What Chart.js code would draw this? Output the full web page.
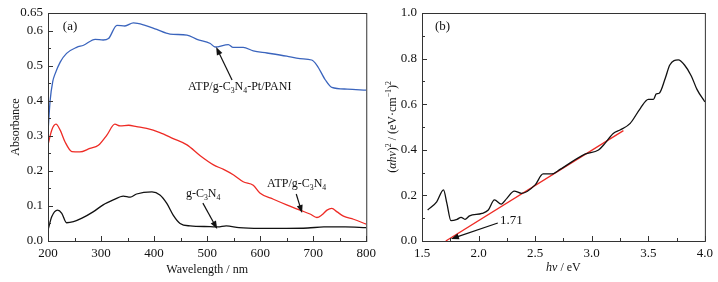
<!DOCTYPE html>
<html>
<head>
<meta charset="utf-8">
<script src="https://cdn.jsdelivr.net/npm/chart.js@4.4.1/dist/chart.umd.min.js"></script>
<style>
  html, body { margin: 0; padding: 0; background: #fff; }
  #wrap { position: relative; width: 718px; height: 282px; }
  #c1 { position: absolute; left: 0; top: 0; }
  #c2 { position: absolute; left: 378px; top: 0; }
</style>
</head>
<body>
<div id="wrap">
  <canvas id="c1" width="381" height="282"></canvas>
  <canvas id="c2" width="340" height="282"></canvas>
</div>
<script>
// (a) UV-vis absorbance
var blueWl  = [200, 204, 209, 213, 223, 235, 254, 267, 289, 304, 314, 330, 345, 361, 383, 405, 430, 462, 481, 506, 515, 540, 549, 568, 587, 613, 650, 675, 697, 707, 723, 735, 764, 800];
var blueAbs = [0.31, 0.40, 0.455, 0.475, 0.51, 0.535, 0.552, 0.558, 0.575, 0.573, 0.577, 0.615, 0.613, 0.622, 0.615, 0.603, 0.59, 0.587, 0.575, 0.563, 0.553, 0.56, 0.552, 0.552, 0.542, 0.536, 0.527, 0.52, 0.516, 0.501, 0.459, 0.438, 0.433, 0.43];

var redWl  = [200, 207, 215, 223, 232, 245, 260, 279, 295, 311, 326, 336, 352, 367, 386, 411, 436, 462, 487, 512, 531, 550, 568, 587, 600, 625, 650, 675, 694, 707, 716, 726, 735, 745, 757, 776, 800];
var redAbs = [0.274, 0.316, 0.333, 0.316, 0.283, 0.255, 0.254, 0.264, 0.273, 0.302, 0.333, 0.328, 0.33, 0.326, 0.321, 0.309, 0.292, 0.274, 0.243, 0.217, 0.204, 0.188, 0.169, 0.159, 0.136, 0.119, 0.103, 0.088, 0.077, 0.067, 0.074, 0.088, 0.093, 0.083, 0.071, 0.062, 0.048];

var blackWl  = [200, 207, 218, 226, 235, 248, 264, 285, 304, 323, 342, 355, 367, 396, 411, 424, 436, 449, 468, 506, 520, 536, 560, 600, 650, 690, 720, 760, 800];
var blackAbs = [0.031, 0.069, 0.088, 0.079, 0.052, 0.055, 0.065, 0.083, 0.103, 0.117, 0.128, 0.125, 0.134, 0.14, 0.131, 0.107, 0.074, 0.05, 0.043, 0.041, 0.04, 0.043, 0.038, 0.036, 0.036, 0.037, 0.04, 0.04, 0.038];

var absTicks = [0, 0.1, 0.2, 0.3, 0.4, 0.5, 0.6, 0.65];

// (b) Tauc plot
var taucEnergy = [1.55, 1.63, 1.69, 1.72, 1.756, 1.81, 1.845, 1.88, 1.92, 2.03, 2.086, 2.14, 2.2, 2.25, 2.315, 2.38, 2.5, 2.57, 2.646, 2.72, 2.94, 3.06, 3.117, 3.19, 3.25, 3.34, 3.43, 3.5, 3.545, 3.57, 3.596, 3.65, 3.69, 3.765, 3.82, 3.88, 3.93, 4.0];
var taucValue  = [0.136, 0.172, 0.224, 0.165, 0.089, 0.095, 0.104, 0.095, 0.11, 0.121, 0.136, 0.18, 0.162, 0.187, 0.219, 0.209, 0.246, 0.294, 0.294, 0.314, 0.381, 0.399, 0.428, 0.472, 0.487, 0.516, 0.582, 0.621, 0.621, 0.645, 0.648, 0.714, 0.772, 0.794, 0.772, 0.724, 0.665, 0.61];

var fitEnergy = [1.71, 3.28];
var fitValue  = [0, 0.484];

var SERIF = "'Liberation Serif', 'DejaVu Serif', serif";
Chart.defaults.font.family = SERIF;
Chart.defaults.color = '#111';

function pts(xs, ys) {
  return xs.map(function (x, i) { return { x: x, y: ys[i] }; });
}

// draw text made of pieces: [text, style] where style is '', 'sub', 'sup', 'i'
function richWidth(ctx, parts, size) {
  var w = 0;
  parts.forEach(function (p) {
    var s = (p[1] === 'sub' || p[1] === 'sup') ? size * 0.65 : size;
    ctx.font = (p[1] === 'i' ? 'italic ' : '') + s + 'px ' + SERIF;
    w += ctx.measureText(p[0]).width;
  });
  return w;
}
function drawRich(ctx, x, y, parts, size, align) {
  ctx.save();
  ctx.textBaseline = 'middle';
  ctx.textAlign = 'left';
  ctx.fillStyle = '#111';
  if (align === 'center') x -= richWidth(ctx, parts, size) / 2;
  parts.forEach(function (p) {
    var s = size, dy = 0;
    if (p[1] === 'sub') { s = size * 0.65; dy = size * 0.3; }
    if (p[1] === 'sup') { s = size * 0.65; dy = -size * 0.3; }
    ctx.font = (p[1] === 'i' ? 'italic ' : '') + s + 'px ' + SERIF;
    ctx.fillText(p[0], x, y + dy);
    x += ctx.measureText(p[0]).width;
  });
  ctx.restore();
}
function arrow(ctx, x1, y1, x2, y2) {
  var a = Math.atan2(y2 - y1, x2 - x1), L = 8, W = 3;
  ctx.save();
  ctx.strokeStyle = '#111';
  ctx.fillStyle = '#111';
  ctx.lineWidth = 1.2;
  ctx.beginPath();
  ctx.moveTo(x1, y1);
  ctx.lineTo(x2 - Math.cos(a) * L * 0.8, y2 - Math.sin(a) * L * 0.8);
  ctx.stroke();
  ctx.beginPath();
  ctx.moveTo(x2, y2);
  ctx.lineTo(x2 - Math.cos(a) * L - Math.sin(a) * W, y2 - Math.sin(a) * L + Math.cos(a) * W);
  ctx.lineTo(x2 - Math.cos(a) * L + Math.sin(a) * W, y2 - Math.sin(a) * L - Math.cos(a) * W);
  ctx.closePath();
  ctx.fill();
  ctx.restore();
}

// box around the plot plus inward major/minor ticks
var framePlugin = {
  id: 'frame',
  afterDraw: function (chart, args, opts) {
    var ctx = chart.ctx, a = chart.chartArea;
    var xs = chart.scales.x, ys = chart.scales.y;
    ctx.save();
    ctx.strokeStyle = '#333';
    ctx.lineWidth = 1;
    ctx.strokeRect(a.left + 0.5, a.top + 0.5, a.right - a.left, a.bottom - a.top);
    ctx.beginPath();
    var v, p, len;
    for (v = xs.min; v <= xs.max + 1e-9; v += opts.xMinor) {
      p = Math.round(xs.getPixelForValue(v)) + 0.5;
      len = (Math.abs(Math.round((v - xs.min) / opts.xMinor)) % 2 === 0) ? 5 : 3;
      ctx.moveTo(p, a.bottom);
      ctx.lineTo(p, a.bottom - len);
    }
    for (v = ys.min; v <= ys.max + 1e-9; v += opts.yMinor) {
      p = Math.round(ys.getPixelForValue(v)) + 0.5;
      len = (Math.abs(Math.round((v - ys.min) / opts.yMinor)) % 2 === 0) ? 5 : 3;
      ctx.moveTo(a.left, p);
      ctx.lineTo(a.left + len, p);
    }
    ctx.stroke();
    ctx.restore();
    if (opts.notes) opts.notes(chart, ctx, xs, ys);
  }
};

var tickFont = { size: 13, family: SERIF };
var noGrid = { display: false, drawTicks: false };

new Chart(document.getElementById('c1'), {
  type: 'line',
  data: {
    datasets: [
      { data: pts(blueWl, blueAbs), borderColor: '#3a64bd' },
      { data: pts(redWl, redAbs), borderColor: '#ee2b25' },
      { data: pts(blackWl, blackAbs), borderColor: '#111111' }
    ]
  },
  options: {
    responsive: false,
    animation: false,
    layout: { padding: { left: 5, top: 13, right: 12, bottom: 0 } },
    elements: {
      point: { radius: 0 },
      line: { borderWidth: 1.3, cubicInterpolationMode: 'monotone', fill: false }
    },
    plugins: {
      legend: { display: false },
      tooltip: { enabled: false },
      frame: {
        xMinor: 50, yMinor: 0.05,
        notes: function (chart, ctx, xs, ys) {
          var X = function (v) { return xs.getPixelForValue(v); };
          var Y = function (v) { return ys.getPixelForValue(v); };
          drawRich(ctx, X(228), Y(0.61), [['(a)', '']], 13);
          drawRich(ctx, X(464), Y(0.439), [['ATP/g-C', ''], ['3', 'sub'], ['N', ''], ['4', 'sub'], ['-Pt/PANI', '']], 12);
          arrow(ctx, X(547), Y(0.459), X(517), Y(0.553));
          drawRich(ctx, X(613), Y(0.162), [['ATP/g-C', ''], ['3', 'sub'], ['N', ''], ['4', 'sub']], 12);
          arrow(ctx, X(668), Y(0.134), X(679), Y(0.08));
          drawRich(ctx, X(460), Y(0.134), [['g-C', ''], ['3', 'sub'], ['N', ''], ['4', 'sub']], 12);
          arrow(ctx, X(492), Y(0.108), X(519), Y(0.034));
        }
      }
    },
    scales: {
      x: {
        type: 'linear', min: 200, max: 800,
        grid: noGrid, border: { display: false },
        ticks: { stepSize: 100, font: tickFont, padding: 5, maxRotation: 0 },
        title: { display: true, text: 'Wavelength / nm', font: { size: 12, family: SERIF }, padding: { top: 2, bottom: 5 } },
        afterFit: function (s) { s.height = 41; }
      },
      y: {
        type: 'linear', min: 0, max: 0.65,
        grid: noGrid, border: { display: false },
        afterBuildTicks: function (s) { s.ticks = absTicks.map(function (v) { return { value: v }; }); },
        ticks: {
          font: tickFont, padding: 5,
          callback: function (v) { return v === 0.65 ? '0.65' : v.toFixed(1); }
        },
        title: { display: true, text: 'Absorbance', font: { size: 12, family: SERIF }, padding: { top: 4, bottom: 0 } },
        afterFit: function (s) { s.width = 43; }
      }
    }
  },
  plugins: [framePlugin]
});

new Chart(document.getElementById('c2'), {
  type: 'line',
  data: {
    datasets: [
      { data: pts(taucEnergy, taucValue), borderColor: '#111111' },
      { data: pts(fitEnergy, fitValue), borderColor: '#ee2b25', cubicInterpolationMode: 'default', tension: 0 }
    ]
  },
  options: {
    responsive: false,
    animation: false,
    layout: { padding: { left: 0, top: 13, right: 13, bottom: 0 } },
    elements: {
      point: { radius: 0 },
      line: { borderWidth: 1.3, cubicInterpolationMode: 'monotone', fill: false }
    },
    plugins: {
      legend: { display: false },
      tooltip: { enabled: false },
      frame: {
        xMinor: 0.25, yMinor: 0.1,
        notes: function (chart, ctx, xs, ys) {
          var X = function (v) { return xs.getPixelForValue(v); };
          var Y = function (v) { return ys.getPixelForValue(v); };
          var a = chart.chartArea;
          drawRich(ctx, X(1.615), Y(0.94), [['(b)', '']], 13);
          drawRich(ctx, X(2.19), Y(0.088), [['1.71', '']], 13);
          arrow(ctx, X(2.17), Y(0.079), X(1.756), Y(0.009));
          // axis titles with italic symbols
          drawRich(ctx, (a.left + a.right) / 2, 268, [['h\u03bd', 'i'], [' / eV', '']], 12, 'center');
          ctx.save();
          ctx.translate(15, (a.top + a.bottom) / 2);
          ctx.rotate(-Math.PI / 2);
          drawRich(ctx, 0, 0, [['(', ''], ['\u03b1h\u03bd', 'i'], [')', ''], ['2', 'sup'], [' / (eV\u00b7cm', ''], ['\u22121', 'sup'], [')', ''], ['2', 'sup']], 12, 'center');
          ctx.restore();
        }
      }
    },
    scales: {
      x: {
        type: 'linear', min: 1.5, max: 4.0,
        grid: noGrid, border: { display: false },
        ticks: { stepSize: 0.5, font: tickFont, padding: 5, maxRotation: 0, callback: function (v) { return v.toFixed(1); } },
        afterFit: function (s) { s.height = 41; }
      },
      y: {
        type: 'linear', min: 0, max: 1.0,
        grid: noGrid, border: { display: false },
        ticks: { stepSize: 0.2, font: tickFont, padding: 5, callback: function (v) { return v.toFixed(1); } },
        afterFit: function (s) { s.width = 44; }
      }
    }
  },
  plugins: [framePlugin]
});
</script>
</body>
</html>
